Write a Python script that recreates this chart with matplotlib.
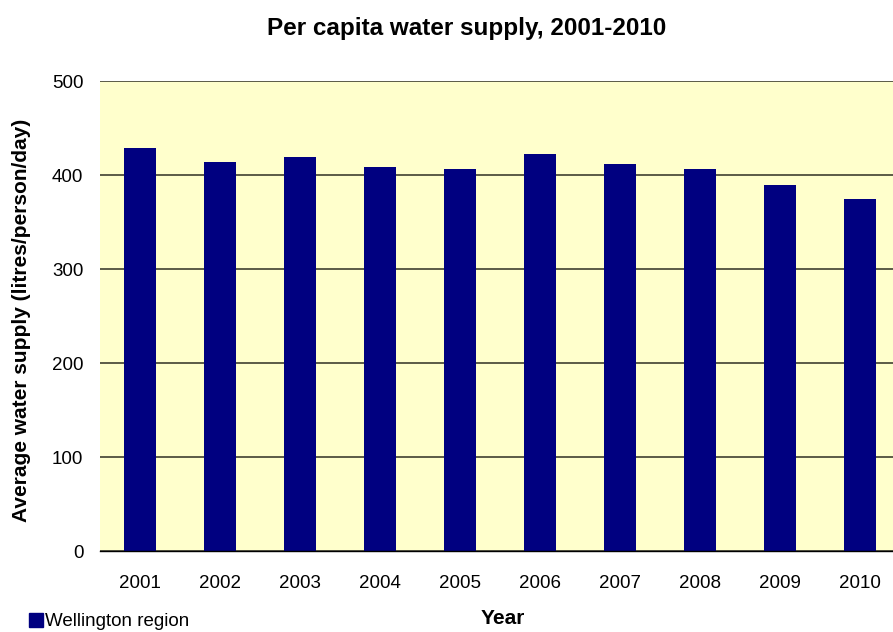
#!/usr/bin/env python3
# Bar chart of average per capita water supply, Wellington region, 2001-2010

import numpy as np
import matplotlib.pyplot as plt
from matplotlib.patches import Patch

plt.rcParams['font.family'] = ['Liberation Sans', 'DejaVu Sans']

# Data (litres/person/day)
years = ['2001', '2002', '2003', '2004', '2005', '2006', '2007', '2008', '2009', '2010']
supply = [429, 414, 420, 409, 407, 423, 412, 407, 390, 375]
series_name = 'Wellington region'

bar_color = '#000080'
plot_bg = '#FFFFCC'

fig = plt.figure(figsize=(8.93, 6.32), dpi=100)
# plot area runs slightly past the right edge of the figure
ax = fig.add_axes([100 / 893, 80.7 / 632, 800 / 893, 470 / 632])
ax.set_facecolor(plot_bg)

x = np.arange(len(years))
ax.bar(x, supply, width=0.4, color=bar_color, zorder=3)

ax.set_xlim(-0.5, len(years) - 0.5)
ax.set_ylim(0, 500)
ax.set_yticks([0, 100, 200, 300, 400, 500])
ax.set_xticks(x)
ax.set_xticklabels(years)
ax.tick_params(axis='both', length=0, labelsize=13.5, colors='black')
ax.tick_params(axis='x', pad=17)
ax.tick_params(axis='y', pad=12)

ax.yaxis.grid(True, color='#404030', linewidth=1.2, zorder=1)
ax.set_axisbelow(True)
for side in ('left', 'right', 'top'):
    ax.spines[side].set_visible(False)
ax.spines['bottom'].set_color('black')
ax.spines['bottom'].set_linewidth(1.0)
ax.spines['bottom'].set_zorder(4)

fig.text(467 / 893, 1 - 28 / 632, 'Per capita water supply, 2001-2010',
         ha='center', va='center', fontsize=17.5, fontweight='bold')
fig.text(22 / 893, 1 - 320 / 632, 'Average water supply (litres/person/day)',
         ha='center', va='center', rotation=90, fontsize=15, fontweight='bold')
fig.text(503 / 893, 1 - 619 / 632, 'Year',
         ha='center', va='center', fontsize=15, fontweight='bold')

handle = Patch(facecolor=bar_color, edgecolor=bar_color)
fig.legend([handle], [series_name], loc='lower left',
           bbox_to_anchor=(21 / 893, -6 / 632), frameon=False, fontsize=13.5,
           handlelength=0.75, handleheight=0.75, handletextpad=0.15,
           borderaxespad=0)

fig.savefig('out.png', dpi=100)
